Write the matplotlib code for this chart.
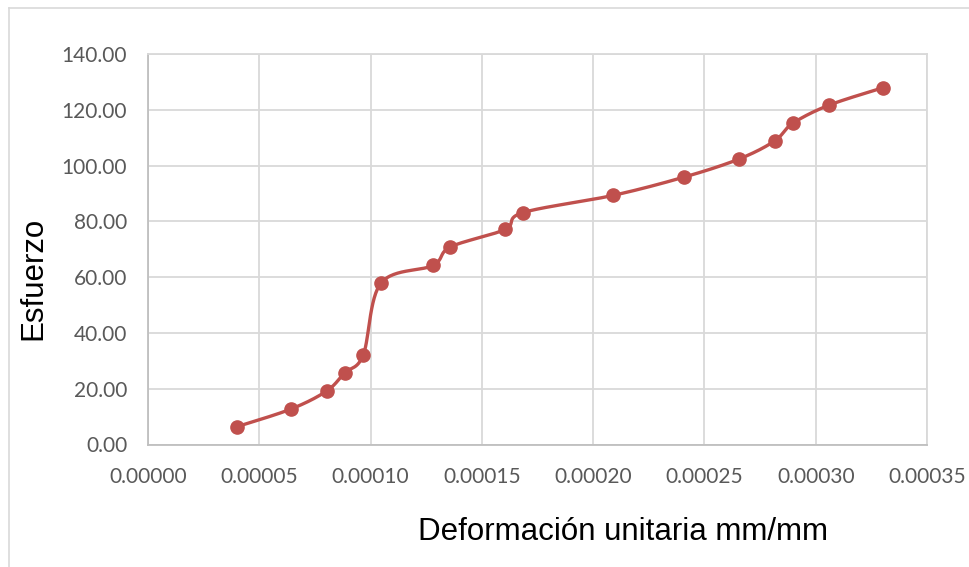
import numpy as np
import matplotlib
matplotlib.use("Agg")
import matplotlib.pyplot as plt
from matplotlib.lines import Line2D

# Data
strain = [0.0000400, 0.0000642, 0.0000803, 0.0000884, 0.0000967, 0.0001046,
          0.0001280, 0.0001358, 0.0001604, 0.0001683, 0.0002089, 0.0002410,
          0.0002654, 0.0002815, 0.0002896, 0.0003058, 0.0003302]
stress = [6.4, 12.7, 19.2, 25.7, 32.1, 57.8, 64.2, 70.8, 77.1, 83.1, 89.3,
          95.9, 102.3, 108.8, 115.1, 121.6, 127.9]
x_ticks = [0.0, 0.00005, 0.0001, 0.00015, 0.0002, 0.00025, 0.0003, 0.00035]
y_ticks = [0, 20, 40, 60, 80, 100, 120, 140]
x_label = "Deformación unitaria mm/mm"
y_label = "Esfuerzo"

W, H = 969, 567
fig = plt.figure(figsize=(W / 100, H / 100), dpi=100)
ax = fig.add_axes([148 / W, 1 - 444.5 / H, (927 - 148) / W, (444.5 - 54) / H])
ax.set_xlim(0, 0.00035)
ax.set_ylim(0, 140)

grid_c = "#d9d9d9"
ax.set_xticks(x_ticks)
ax.set_yticks(y_ticks)
ax.set_xticklabels([f"{v:.5f}" for v in x_ticks])
ax.set_yticklabels([f"{v:.2f}" for v in y_ticks])
ax.grid(True, color=grid_c, linewidth=1.3)
ax.set_axisbelow(True)
for s in ax.spines.values():
    s.set_color(grid_c)
    s.set_linewidth(1.3)
ax.spines["left"].set_color("#bfbfbf")
ax.spines["bottom"].set_color("#bfbfbf")
ax.tick_params(length=0, labelcolor="#595959", labelsize=15)
ax.tick_params(axis="y", pad=15)
ax.tick_params(axis="x", pad=16)
for lab in ax.get_xticklabels() + ax.get_yticklabels():
    lab.set_family("Lato")

# Excel-like smoothed line (cubic Bezier / Catmull-Rom in display space)
fig.canvas.draw()
pts = ax.transData.transform(np.column_stack([strain, stress]))
n = len(pts)
curve = [pts[0]]
t = np.linspace(0, 1, 30)[1:]
for i in range(n - 1):
    p0 = pts[i - 1] if i > 0 else pts[i]
    p1 = pts[i]
    p2 = pts[i + 1]
    p3 = pts[i + 2] if i + 2 < n else pts[i + 1]
    c1 = p1 + (p2 - p0) / 6
    c2 = p2 - (p3 - p1) / 6
    for tt in t:
        b = ((1 - tt) ** 3) * p1 + 3 * ((1 - tt) ** 2) * tt * c1 + 3 * (1 - tt) * tt ** 2 * c2 + tt ** 3 * p2
        curve.append(b)
curve = ax.transData.inverted().transform(np.array(curve))
color = "#c0504d"
ax.plot(curve[:, 0], curve[:, 1], color=color, linewidth=2.4, solid_capstyle="round", zorder=3)
ax.plot(strain, stress, linestyle="none", marker="o", markersize=9.5,
        color=color, markeredgecolor=color, zorder=4)

fig.text(623 / W, 1 - 532 / H, x_label, ha="center", va="center",
         fontsize=22.5, family="Liberation Sans", color="black")
fig.text(33 / W, 1 - 278 / H, y_label, ha="center", va="center", rotation=90,
         fontsize=22.5, family="Liberation Sans", color="black")

# chart area border (top and left visible)
fig.add_artist(Line2D([8.5 / W, 1.01], [1 - 8 / H, 1 - 8 / H], color=grid_c, linewidth=1.2,
                      transform=fig.transFigure))
fig.add_artist(Line2D([8.5 / W, 8.5 / W], [1 - 8 / H, -0.01], color=grid_c, linewidth=1.2,
                      transform=fig.transFigure))

fig.savefig("out.png", dpi=100)
